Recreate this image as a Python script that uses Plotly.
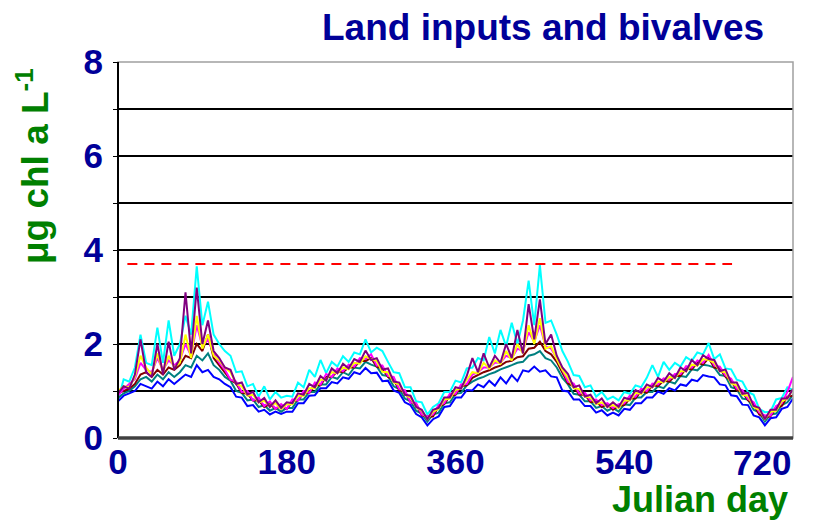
import plotly.graph_objects as go

days = list(range(0, 721, 6))

purple = [0.95, 1.10, 1.05, 1.35, 2.10, 1.40, 1.30, 2.00, 1.35, 2.05,
          1.45, 1.70, 3.10, 1.80, 3.20, 2.00, 2.50, 1.85, 1.70, 1.50,
          1.45, 1.15, 1.18, 0.92, 0.98, 0.76, 0.85, 0.66, 0.80, 0.64,
          0.76, 0.74, 0.95, 0.92, 1.15, 1.08, 1.32, 1.22, 1.48, 1.38,
          1.58, 1.48, 1.68, 1.62, 1.86, 1.66, 1.70, 1.46, 1.48, 1.20,
          1.18, 0.92, 0.90, 0.66, 0.60, 0.40, 0.60, 0.64, 0.86, 0.86,
          1.08, 1.05, 1.32, 1.70, 1.40, 1.80, 1.50, 1.75, 1.60, 2.00,
          1.70, 2.30, 1.80, 2.85, 2.10, 2.95, 2.00, 2.20, 1.75, 1.50,
          1.36, 1.08, 1.12, 0.88, 0.92, 0.74, 0.84, 0.66, 0.76, 0.66,
          0.86, 0.82, 1.02, 0.96, 1.14, 1.08, 1.28, 1.20, 1.38, 1.28,
          1.50, 1.42, 1.66, 1.55, 1.76, 1.68, 1.66, 1.42, 1.46, 1.18,
          1.18, 0.94, 0.96, 0.68, 0.64, 0.40, 0.60, 0.60, 0.84, 0.84, 1.05]

cyan = [0.80, 1.25, 1.20, 1.50, 2.20, 1.60, 1.55, 2.35, 1.60, 2.50,
        1.75, 2.00, 2.60, 2.20, 3.65, 2.40, 2.90, 2.20, 2.00, 1.85,
        1.75, 1.40, 1.42, 1.10, 1.15, 0.88, 1.10, 0.82, 0.98, 0.86,
        0.90, 0.88, 1.18, 1.08, 1.45, 1.30, 1.66, 1.38, 1.62, 1.52,
        1.74, 1.62, 1.82, 1.78, 2.10, 1.82, 1.92, 1.85, 1.62, 1.40,
        1.38, 1.08, 1.08, 0.78, 0.76, 0.50, 0.66, 0.74, 0.98, 0.98,
        1.22, 1.18, 1.48, 1.50, 1.70, 1.65, 2.15, 1.80, 2.30, 1.95,
        2.45, 2.00, 2.50, 3.35, 2.40, 3.68, 2.45, 2.50, 2.20, 1.85,
        1.62, 1.34, 1.32, 1.08, 1.12, 0.88, 0.98, 0.82, 0.88, 0.80,
        0.98, 0.94, 1.12, 1.08, 1.28, 1.55, 1.30, 1.62, 1.45, 1.60,
        1.52, 1.72, 1.64, 1.82, 1.78, 2.02, 1.68, 1.78, 1.48, 1.46,
        1.24, 1.20, 0.98, 0.92, 0.62, 0.55, 0.56, 0.82, 0.85, 1.08, 1.02]

magenta = [0.90, 1.05, 1.15, 1.25, 1.60, 1.45, 1.40, 1.70, 1.45, 1.65,
           1.55, 1.65, 2.00, 1.75, 2.40, 1.95, 2.10, 1.80, 1.60, 1.45,
           1.24, 1.20, 0.98, 1.00, 0.80, 0.86, 0.68, 0.78, 0.62, 0.72,
           0.62, 0.82, 0.80, 1.00, 0.96, 1.18, 1.14, 1.36, 1.30, 1.48,
           1.42, 1.56, 1.52, 1.70, 1.68, 1.78, 1.54, 1.54, 1.32, 1.30,
           1.04, 1.02, 0.76, 0.74, 0.50, 0.46, 0.50, 0.70, 0.74, 0.94,
           0.94, 1.14, 1.15, 1.35, 1.40, 1.50, 1.50, 1.60, 1.60, 1.75,
           1.70, 1.90, 1.85, 2.25, 2.05, 2.40, 1.95, 1.90, 1.70, 1.45,
           1.20, 1.16, 0.95, 0.96, 0.80, 0.82, 0.70, 0.74, 0.64, 0.72,
           0.74, 0.90, 0.88, 1.05, 1.00, 1.16, 1.14, 1.27, 1.24, 1.36,
           1.36, 1.53, 1.50, 1.65, 1.60, 1.77, 1.54, 1.52, 1.33, 1.26,
           1.05, 1.02, 0.83, 0.76, 0.54, 0.48, 0.48, 0.68, 0.74, 0.98, 1.30]

yellow = [1.00, 1.10, 1.08, 1.30, 1.75, 1.50, 1.35, 1.80, 1.40, 1.75,
          1.50, 1.60, 2.20, 1.70, 2.60, 1.90, 2.20, 1.75, 1.65, 1.50,
          1.40, 1.16, 1.10, 0.90, 0.92, 0.76, 0.79, 0.68, 0.74, 0.62,
          0.72, 0.72, 0.90, 0.90, 1.06, 1.06, 1.24, 1.24, 1.40, 1.38,
          1.50, 1.46, 1.60, 1.58, 1.74, 1.68, 1.64, 1.41, 1.40, 1.18,
          1.14, 0.92, 0.86, 0.66, 0.58, 0.40, 0.56, 0.62, 0.82, 0.84,
          1.02, 1.06, 1.24, 1.40, 1.38, 1.60, 1.48, 1.65, 1.58, 1.85,
          1.65, 2.00, 1.80, 2.40, 2.00, 2.55, 1.90, 1.95, 1.68, 1.45,
          1.28, 1.06, 1.04, 0.88, 0.86, 0.72, 0.76, 0.66, 0.70, 0.64,
          0.80, 0.80, 0.96, 0.94, 1.08, 1.08, 1.20, 1.18, 1.30, 1.28,
          1.42, 1.42, 1.56, 1.54, 1.68, 1.66, 1.60, 1.42, 1.40, 1.16,
          1.12, 0.92, 0.90, 0.66, 0.60, 0.40, 0.56, 0.58, 0.78, 0.84, 1.04]

maroon = [0.95, 1.00, 1.05, 1.15, 1.35, 1.40, 1.30, 1.45, 1.35, 1.50,
          1.45, 1.55, 1.75, 1.70, 2.00, 1.85, 2.20, 1.70, 1.55, 1.40,
          1.24, 1.16, 0.96, 0.94, 0.80, 0.80, 0.66, 0.72, 0.62, 0.68,
          0.62, 0.78, 0.80, 0.96, 0.96, 1.12, 1.12, 1.30, 1.30, 1.42,
          1.40, 1.50, 1.50, 1.64, 1.64, 1.70, 1.52, 1.48, 1.30, 1.24,
          1.02, 0.98, 0.76, 0.72, 0.48, 0.46, 0.46, 0.68, 0.72, 0.90,
          0.92, 1.10, 1.12, 1.28, 1.34, 1.40, 1.44, 1.50, 1.54, 1.62,
          1.64, 1.72, 1.74, 1.90, 1.92, 2.05, 1.85, 1.78, 1.62, 1.38,
          1.16, 1.10, 0.92, 0.92, 0.76, 0.78, 0.66, 0.72, 0.60, 0.68,
          0.70, 0.84, 0.84, 1.00, 0.96, 1.12, 1.10, 1.22, 1.20, 1.32,
          1.32, 1.48, 1.46, 1.60, 1.56, 1.70, 1.50, 1.48, 1.30, 1.22,
          1.02, 0.98, 0.80, 0.72, 0.50, 0.44, 0.46, 0.64, 0.68, 0.88, 0.90]

teal = [0.85, 0.95, 1.00, 1.10, 1.25, 1.30, 1.20, 1.35, 1.25, 1.40,
        1.30, 1.40, 1.55, 1.50, 1.75, 1.65, 1.80, 1.55, 1.45, 1.30,
        1.22, 1.00, 0.96, 0.80, 0.82, 0.66, 0.70, 0.58, 0.64, 0.56,
        0.64, 0.64, 0.82, 0.82, 0.98, 0.98, 1.14, 1.14, 1.30, 1.26,
        1.40, 1.34, 1.50, 1.48, 1.62, 1.56, 1.52, 1.34, 1.32, 1.10,
        1.04, 0.84, 0.78, 0.58, 0.52, 0.35, 0.50, 0.54, 0.74, 0.76,
        0.94, 0.96, 1.12, 1.20, 1.26, 1.30, 1.36, 1.40, 1.46, 1.50,
        1.55, 1.60, 1.62, 1.75, 1.78, 1.85, 1.70, 1.65, 1.50, 1.28,
        1.14, 0.94, 0.92, 0.78, 0.78, 0.64, 0.68, 0.58, 0.64, 0.56,
        0.72, 0.70, 0.86, 0.86, 0.98, 0.98, 1.10, 1.06, 1.20, 1.16,
        1.32, 1.30, 1.46, 1.44, 1.56, 1.54, 1.50, 1.34, 1.32, 1.08,
        1.04, 0.84, 0.82, 0.60, 0.54, 0.35, 0.50, 0.52, 0.70, 0.76, 0.92]

blue = [0.78, 0.90, 0.95, 1.00, 1.15, 1.10, 1.05, 1.20, 1.10, 1.25,
        1.15, 1.25, 1.35, 1.30, 1.55, 1.40, 1.45, 1.30, 1.25, 1.15,
        1.08, 0.88, 0.86, 0.68, 0.70, 0.56, 0.60, 0.50, 0.56, 0.51,
        0.56, 0.56, 0.74, 0.74, 0.90, 0.91, 1.06, 1.06, 1.19, 1.16,
        1.29, 1.26, 1.40, 1.36, 1.49, 1.38, 1.39, 1.21, 1.22, 1.01,
        0.96, 0.76, 0.70, 0.51, 0.44, 0.27, 0.40, 0.46, 0.66, 0.68,
        0.86, 0.86, 1.02, 1.01, 1.14, 1.08, 1.22, 1.11, 1.29, 1.16,
        1.34, 1.21, 1.44, 1.41, 1.52, 1.41, 1.44, 1.31, 1.29, 1.01,
        0.99, 0.82, 0.82, 0.68, 0.68, 0.54, 0.59, 0.48, 0.54, 0.48,
        0.62, 0.60, 0.74, 0.74, 0.86, 0.86, 0.99, 0.94, 1.06, 1.01,
        1.14, 1.11, 1.24, 1.21, 1.34, 1.31, 1.29, 1.14, 1.12, 0.91,
        0.89, 0.71, 0.70, 0.48, 0.44, 0.27, 0.42, 0.44, 0.62, 0.66, 0.84]

limit_days = [10, 655]
limit_values = [3.7, 3.7]

x_ticks = [0, 180, 360, 540, 720]
# the last label ("720") is drawn right-aligned to its tick, as in the original
x_ticktext = ["0", "180", "360", "540", ""]
last_x_label = "720"
y_ticks = [0, 1, 2, 3, 4, 5, 6, 7, 8]
y_ticktext = ["0", "", "2", "", "4", "", "6", "", "8"]

series = [
    ("cyan", cyan, "#00FFFF"),
    ("blue", blue, "#0000FF"),
    ("teal", teal, "#008080"),
    ("maroon", maroon, "#800000"),
    ("magenta", magenta, "#FF00FF"),
    ("yellow", yellow, "#FFFF00"),
    ("purple", purple, "#800080"),
]

NAVY = "#000099"
GREEN = "#008000"
FONT = "Liberation Sans, Arial, sans-serif"

fig = go.Figure()
for name, vals, col in series:
    fig.add_trace(go.Scatter(x=days, y=vals, mode="lines", name=name,
                             line=dict(color=col, width=2)))
fig.add_trace(go.Scatter(x=limit_days, y=limit_values, mode="lines",
                         line=dict(color="#FF0000", width=2, dash="10px,7px")))

# the page body adds an 8px offset, so the figure is 8px smaller on each axis
fig.update_layout(
    width=817, height=514,
    margin=dict(l=110, r=32, t=54, b=84),
    paper_bgcolor="white", plot_bgcolor="white",
    showlegend=False,
    font=dict(family=FONT),
)
fig.update_xaxes(range=[0, 720], tickvals=x_ticks, ticktext=x_ticktext,
                 tickfont=dict(family=FONT, size=35, color=NAVY, weight="bold"),
                 showgrid=False, zeroline=False, showline=False, ticks="",
                 automargin=False)
fig.update_yaxes(range=[0, 8], tickvals=y_ticks, ticktext=y_ticktext,
                 tickfont=dict(family=FONT, size=35, color=NAVY, weight="bold"),
                 showgrid=True, gridcolor="black", gridwidth=1.5,
                 zeroline=False, showline=False, ticks="outside", ticklen=4,
                 tickcolor="black", automargin=False, ticklabelstandoff=3)

# frame
fig.add_shape(type="rect", xref="paper", yref="paper", x0=0, x1=1, y0=0, y1=1,
              line=dict(color="#A0A0A0", width=1.5), layer="above")
fig.add_shape(type="line", xref="paper", yref="paper", x0=0, x1=0, y0=0, y1=1,
              line=dict(color="black", width=2), layer="above")
fig.add_shape(type="line", xref="paper", yref="paper", x0=0, x1=1, y0=0, y1=0,
              line=dict(color="#404040", width=3.5), layer="above")

fig.add_annotation(text=last_x_label, xref="x", yref="paper",
                   x=x_ticks[-1], y=0, yshift=-24, showarrow=False,
                   xanchor="right", yanchor="middle",
                   font=dict(family=FONT, size=35, color=NAVY, weight="bold"))
fig.add_annotation(text="Land inputs and bivalves", xref="paper", yref="paper",
                   x=0.63, y=1.093, showarrow=False, xanchor="center", yanchor="middle",
                   font=dict(family=FONT, size=37, color=NAVY, weight="bold"))
fig.add_annotation(text="Julian day", xref="paper", yref="paper",
                   x=0.9956, y=-0.164, showarrow=False, xanchor="right", yanchor="middle",
                   font=dict(family=FONT, size=36, color=GREEN, weight="bold"))
fig.add_annotation(text="μg chl a L<sup>-1</sup>", xref="paper", yref="paper",
                   x=-0.126, y=0.723, showarrow=False, textangle=-90,
                   xanchor="center", yanchor="middle",
                   font=dict(family=FONT, size=37, color=GREEN, weight="bold"))

fig.write_html("out.html")
